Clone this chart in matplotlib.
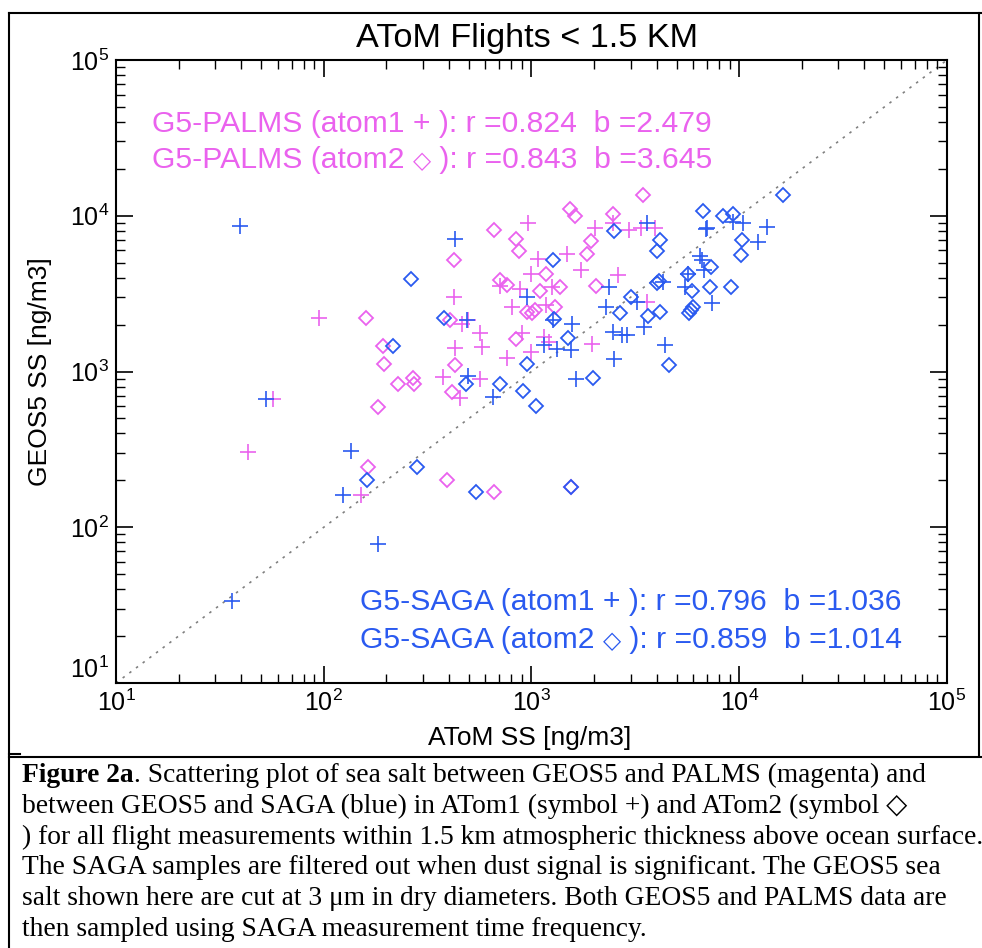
import numpy as np
import matplotlib
matplotlib.use("Agg")
import matplotlib.pyplot as plt
from matplotlib.lines import Line2D
from matplotlib.ticker import LogLocator, NullFormatter

# ===== data =====

# PALMS vs GEOS5, ATom1 (+)
palms1_x = [967, 2024, 2479, 2961, 3360, 3937, 1080, 1479, 1734, 995, 2620, 706,
            881, 1253, 425, 804, 1172, 3591, 462, 497, 566, 898, 1150, 1220,
            429, 576, 1951, 760, 995, 377, 566, 453, 95, 57, 43, 151]
palms1_y = [8940, 8305, 9019, 8096, 8377, 8377, 5255, 5681, 4487, 4230, 4168, 3542,
            3375, 3475, 3026, 2610, 2677, 2810, 2022, 2145, 1763, 1763, 1676, 1557,
            1413, 1446, 1499, 1218, 1343, 921, 894, 675, 2200, 668, 304, 160]

# PALMS vs GEOS5, ATom2 (diamond)
palms2_x = [3436, 1535, 1622, 2462, 663, 843, 875, 1930, 1846, 424, 1172, 706,
            760, 1100, 1373, 2047, 949, 1003, 1040, 1300, 406, 843, 429, 270,
            271, 413, 227, 159, 192, 195, 182, 164, 391, 663, 1546]
palms2_y = [13580, 10990, 9960, 10200, 8096, 7058, 5965, 6882, 5657, 5200, 4230, 3870,
            3593, 3292, 3475, 3542, 2425, 2389, 2485, 2610, 2145, 1614, 1104, 907,
            834, 744, 834, 2200, 1468, 1115, 588, 244, 202, 168, 182]

# SAGA vs GEOS5, ATom1 (+)
saga1_x = [39.5, 429, 3591, 6486, 6625, 2364, 949, 2279, 3214, 488, 1563, 2479,
           2722, 2877, 3498, 1275, 1150, 1324, 1546, 4397, 2507, 497, 1635, 651,
           6934, 7000, 9380, 10480, 13580, 12370, 6799, 5693, 4316, 5493, 7430,
           135, 124, 183, 36.3, 52.8]
saga1_y = [8590, 7090, 9019, 5517, 5200, 3506, 3026, 2610, 2810, 2145, 2022, 1804,
           1719, 1719, 1943, 2145, 1483, 1392, 1378, 1483, 1206, 938, 894, 685,
           8180, 8300, 9150, 8940, 8430, 6813, 4487, 4210, 3742, 3475, 2768,
           307, 160, 78.3, 33.6, 668]

# SAGA vs GEOS5, ATom2 (diamond)
saga2_x = [262, 1275, 2500, 4159, 4037, 3017, 2671, 3656, 4159, 4010, 4100, 5693,
           5954, 5700, 6000, 5850, 381, 1289, 1506, 949, 4613, 483, 706, 1973,
           908, 1052, 16330, 6723, 8340, 9380, 10360, 10180, 7328, 7244, 9140,
           161, 280, 539, 1546, 216]
saga2_y = [3910, 5200, 8010, 6985, 5965, 2998, 2389, 2276, 2425, 3686, 3800, 4210,
           3292, 2367, 2587, 2480, 2221, 2168, 1652, 1115, 1104, 834, 834, 915,
           752, 597, 13580, 10770, 9960, 10200, 6985, 5597, 4710, 3506, 3475,
           202, 244, 168, 182, 1468]

palms_stats = ["r =0.824  b =2.479", "r =0.843  b =3.645"]
saga_stats = ["r =0.796  b =1.036", "r =0.859  b =1.014"]

caption = [
    ". Scattering plot of sea salt between GEOS5 and PALMS (magenta) and",
    "between GEOS5 and SAGA (blue) in ATom1 (symbol +) and ATom2 (symbol \u25c7",
    ") for all flight measurements within 1.5 km atmospheric thickness above ocean surface.",
    "The SAGA samples are filtered out when dust signal is significant. The GEOS5 sea",
    "salt shown here are cut at 3 \u03bcm in dry diameters. Both GEOS5 and PALMS data are",
    "then sampled using SAGA measurement time frequency.",
]

MAGENTA = "#EA62EE"
BLUE = "#2A5AF0"

plt.rcParams["font.family"] = ["Liberation Sans", "DejaVu Sans"]
plt.rcParams["mathtext.default"] = "regular"

W, H = 982, 948
fig = plt.figure(figsize=(W / 100, H / 100), dpi=100)
renderer = fig.canvas.get_renderer()


def advance(s, kw):
    # width of a piece of text including trailing spaces
    a = fig.text(0, 0, s + "|", **kw)
    b = fig.text(0, 0, "|", **kw)
    w = a.get_window_extent(renderer).width - b.get_window_extent(renderer).width
    a.remove()
    b.remove()
    return w


def put_runs(x, y, runs):
    # x, y in pixels from the top-left corner, y is the baseline
    for s, kw in runs:
        fig.text(x / W, 1 - y / H, s, ha="left", va="baseline", **kw)
        x += advance(s, kw)


# ==== scatter panel ====
ax = fig.add_axes([116 / W, 1 - 683 / H, 831 / W, 623 / H])

ax.plot([10, 1e5], [10, 1e5], ls=(0, (1.5, 3.5)), color="#808080", lw=1.2, zorder=1)

ax.plot(palms1_x, palms1_y, ls="none", marker="+", ms=11, mew=1.2, color=MAGENTA)
ax.plot(palms2_x, palms2_y, ls="none", marker="D", ms=7.5, mew=1.3, mfc="none", mec=MAGENTA)
ax.plot(saga1_x, saga1_y, ls="none", marker="+", ms=11, mew=1.2, color=BLUE)
ax.plot(saga2_x, saga2_y, ls="none", marker="D", ms=7.5, mew=1.3, mfc="none", mec=BLUE)

ax.set_xscale("log")
ax.set_yscale("log")
ax.set_xlim(10, 1e5)
ax.set_ylim(10, 1e5)
for axis in (ax.xaxis, ax.yaxis):
    axis.set_major_locator(LogLocator(base=10))
    axis.set_minor_locator(LogLocator(base=10, subs=np.arange(2, 10)))
    axis.set_minor_formatter(NullFormatter())
ax.tick_params(which="both", direction="in", top=True, right=True, labelsize=18)
ax.tick_params(which="major", length=12, width=1.2, pad=5)
ax.tick_params(which="minor", length=6.5, width=1.0)
for sp in ax.spines.values():
    sp.set_linewidth(1.5)

# lowest y label sits above its tick, as in the original
fig.canvas.draw()
for tick in ax.yaxis.get_major_ticks():
    if np.isclose(tick.get_loc(), 10):
        tick.label1.set_va("bottom")

# ==== titles / labels ====
fig.text(527 / W, 1 - 47 / H, "AToM Flights < 1.5 KM", ha="center", va="baseline", fontsize=24.7)
fig.text(530 / W, 1 - 738 / H, "AToM SS [ng/m3]", ha="center", va="center", fontsize=19)
fig.text(40 / W, 1 - 372 / H, "GEOS5 SS [ng/m3]", ha="center", va="center",
         rotation=90, fontsize=19)

# ==== r / b annotations ====
big = dict(fontsize=21.7)
small = dict(fontsize=17, family=["DejaVu Sans"])
put_runs(152, 131.5, [("G5-PALMS (atom1 + ): " + palms_stats[0], dict(big, color=MAGENTA))])
put_runs(152, 168, [("G5-PALMS (atom2 ", dict(big, color=MAGENTA)),
                    ("\u25c7", dict(small, color=MAGENTA)),
                    (" ): " + palms_stats[1], dict(big, color=MAGENTA))])
put_runs(360, 610, [("G5-SAGA (atom1 + ): " + saga_stats[0], dict(big, color=BLUE))])
put_runs(360, 648, [("G5-SAGA (atom2 ", dict(big, color=BLUE)),
                    ("\u25c7", dict(small, color=BLUE)),
                    (" ): " + saga_stats[1], dict(big, color=BLUE))])

# ==== frame of the figure ====
frame = [([8.5, 982], [12.7, 12.7]), ([8.5, 8.5], [12.7, 948]), ([979, 979], [12.7, 756]),
         ([8.5, 982], [756.5, 756.5]), ([8.5, 20], [754, 754])]
for xs, ys in frame:
    fig.add_artist(Line2D([v / W for v in xs], [1 - v / H for v in ys],
                          transform=fig.transFigure, color="black", lw=1.5))

# ==== caption ====
serif = ["Liberation Serif", "DejaVu Serif"]
cap_kw = dict(fontsize=19.8, family=serif, color="black")
put_runs(22, 782, [("Figure 2a", dict(cap_kw, weight="bold")), (caption[0], cap_kw)])
for i, line in enumerate(caption[1:], start=1):
    put_runs(22, 782 + 30.75 * i, [(line, cap_kw)])

fig.savefig("out.png", dpi=100)
